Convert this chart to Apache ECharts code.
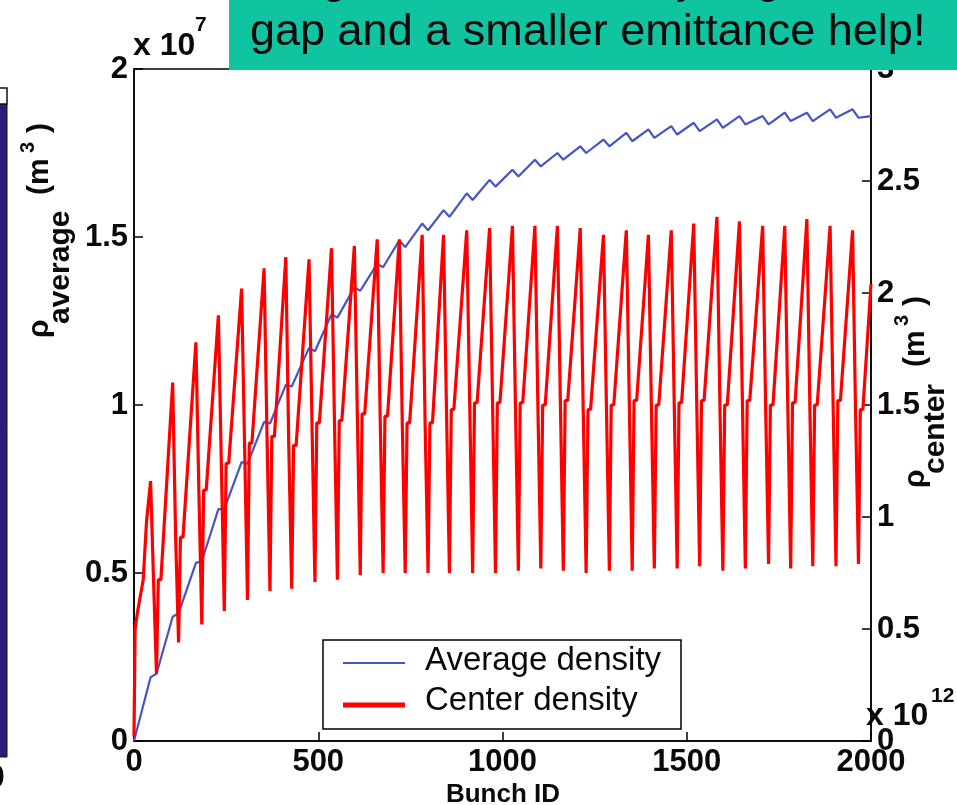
<!DOCTYPE html>
<html><head><meta charset="utf-8">
<script src="https://cdn.jsdelivr.net/npm/echarts@6/dist/echarts.min.js"></script>
<style>html,body{margin:0;padding:0;background:#fff;overflow:hidden}#c{width:957px;height:805px}</style>
</head><body><div id="c"></div>
<script>
// ---- data ----
// bunch index of each local maximum of the centre density (end of each train)
const peakBunch = [45,105,168,229,292,353,412,475,536,598,660,720,782,840,903,965,1027,1088,1149,1211,1274,1336,1396,1458,1519,1582,1643,1706,1766,1826,1889,1950];
// centre density (x1e12 m^-3) at each peak, mid-level shoulder and minimum
const centerPeak = [1.16,1.60,1.78,1.90,2.02,2.11,2.16,2.15,2.20,2.21,2.24,2.24,2.26,2.26,2.28,2.29,2.30,2.30,2.30,2.29,2.26,2.28,2.26,2.28,2.31,2.34,2.32,2.30,2.30,2.33,2.30,2.28];
const centerMid  = [0.72,0.91,1.12,1.24,1.33,1.36,1.32,1.42,1.43,1.46,1.45,1.42,1.42,1.48,1.51,1.51,1.51,1.50,1.52,1.48,1.50,1.52,1.50,1.51,1.52,1.50,1.52,1.50,1.51,1.50,1.52,1.48];
const centerMin  = [0.30,0.44,0.52,0.58,0.63,0.67,0.68,0.71,0.72,0.74,0.75,0.75,0.75,0.75,0.75,0.75,0.76,0.77,0.76,0.75,0.76,0.76,0.77,0.77,0.78,0.76,0.77,0.79,0.77,0.78,0.78,0.79];
const centerStartBunch = [0,3,10,25,34];
const centerStartValue = [0.02,0.50,0.58,0.72,0.98];
const centerEndValue = 2.04;
// bunch offsets (after a peak) of the shoulder-down, minimum, shoulder-up, shoulder-end points
const centerOffsets = [8,16,21,28];
// average density (x1e7 m^-3) at each peak bunch and at the dip that follows it
const avgTop = [0.19,0.37,0.53,0.69,0.83,0.95,1.06,1.17,1.27,1.35,1.42,1.49,1.54,1.58,1.63,1.67,1.70,1.73,1.75,1.77,1.79,1.81,1.82,1.83,1.84,1.85,1.86,1.86,1.87,1.87,1.88,1.88];
const avgLow = [0.20,0.38,0.535,0.69,0.825,0.945,1.055,1.16,1.26,1.34,1.41,1.47,1.52,1.56,1.61,1.65,1.68,1.71,1.73,1.75,1.77,1.785,1.795,1.805,1.815,1.825,1.835,1.835,1.845,1.845,1.855,1.855];
const avgDipOffset = 16;
const avgEndValue = 1.86;
const xMax = 2000;

// ---- build series ----
const red = [];
centerStartBunch.forEach((b,i)=>red.push([b, centerStartValue[i]]));
peakBunch.forEach((p,k)=>{
  red.push([p, centerPeak[k]]);
  red.push([p+centerOffsets[0], centerMid[k]]);
  red.push([p+centerOffsets[1], centerMin[k]]);
  red.push([p+centerOffsets[2], centerMid[k]]);
  red.push([p+centerOffsets[3], centerMid[k]]);
});
red.push([xMax, centerEndValue]);

const blue = [[0,0]];
peakBunch.forEach((p,k)=>{
  blue.push([p, avgTop[k]]);
  blue.push([p+avgDipOffset, avgLow[k]]);
});
blue.push([xMax, avgEndValue]);

const FONT = '"Liberation Sans", Arial, Helvetica, sans-serif';
const TXT = '#0a0a0a';
function t(x,y,text,size,opt){
  return Object.assign({type:'text', x:x, y:y, z:50,
    style:Object.assign({text:text, fill:TXT, font:(opt&&opt.weight||'normal')+' '+size+'px '+FONT,
      align:'left', verticalAlign:'middle'}, opt&&opt.style||{})}, opt&&opt.extra||{});
}
function rt(u,v,text,size,weight){
  return {type:'text', x:u, y:v,
    style:{text:text, fill:TXT, font:(weight||'bold')+' '+size+'px '+FONT, align:'left', verticalAlign:'middle'}};
}
const tickLabel = {fontSize:31, fontWeight:'bold', color:TXT, fontFamily:FONT, margin:6};

const chart = echarts.init(document.getElementById('c'), null, {renderer:'canvas'});
chart.setOption({
  animation:false,
  backgroundColor:'#fff',
  grid:{left:134, right:86, top:69, bottom:64, show:true, borderColor:'#000', borderWidth:1.5, backgroundColor:'transparent'},
  xAxis:{type:'value', min:0, max:xMax, interval:500,
    axisLine:{show:true, lineStyle:{color:'#000', width:1.5}},
    axisTick:{show:true, inside:true, length:9, lineStyle:{color:'#000', width:1.5}},
    axisLabel:Object.assign({formatter:(v)=>String(v)}, tickLabel),
    splitLine:{show:false}},
  yAxis:[
    {type:'value', position:'left', min:0, max:2, interval:0.5,
      axisLine:{show:true, lineStyle:{color:'#000', width:1.5}},
      axisTick:{show:true, inside:true, length:9, lineStyle:{color:'#000', width:1.5}},
      axisLabel:Object.assign({formatter:(v)=>String(v)}, tickLabel),
      splitLine:{show:false}},
    {type:'value', position:'right', min:0, max:3, interval:0.5,
      axisLine:{show:true, lineStyle:{color:'#000', width:1.5}},
      axisTick:{show:true, inside:true, length:9, lineStyle:{color:'#000', width:1.5}},
      axisLabel:Object.assign({formatter:(v)=>String(v)}, tickLabel),
      splitLine:{show:false}}
  ],
  series:[
    {name:'Average density', type:'line', yAxisIndex:0, data:blue, showSymbol:false, symbol:'none',
      lineStyle:{color:'#4555c4', width:2.2}, z:2},
    {name:'Center density', type:'line', yAxisIndex:1, data:red, showSymbol:false, symbol:'none',
      lineStyle:{color:'#ff0000', width:3.2}, z:3}
  ],
  graphic:[
    // left slide fragments
    {type:'rect', shape:{x:-2, y:104, width:9, height:653}, style:{fill:'#2e1c78', stroke:'#111', lineWidth:1}, z:40},
    {type:'rect', shape:{x:-2, y:88, width:9, height:16}, style:{fill:'#fff', stroke:'#111', lineWidth:1.5}, z:40},
    t(-13, 778, '0', 32, {weight:'bold'}),
    // exponent labels
    t(133, 46, 'x 10', 32, {weight:'bold'}),
    t(195, 25, '7', 21, {weight:'bold'}),
    t(866, 716, 'x 10', 32, {weight:'bold'}),
    t(931, 696, '12', 21, {weight:'bold'}),
    // x axis name
    t(503, 795, 'Bunch ID', 26, {weight:'bold', style:{align:'center'}}),
    // left y axis name (rotated)
    {type:'group', x:0, y:0, rotation:Math.PI/2, z:50, children:[
      rt(-338, 40, 'ρ', 30), rt(-324, 61, 'average', 30), rt(-195, 40, '(m', 30),
      rt(-153, 28, '3', 20), rt(-133, 40, ')', 30)
    ]},
    // right y axis name (rotated)
    {type:'group', x:0, y:0, rotation:Math.PI/2, z:50, children:[
      rt(-488, 916, 'ρ', 30), rt(-474, 936, 'center', 30), rt(-367, 916, '(m', 30),
      rt(-326, 902, '3', 20), rt(-306, 916, ')', 30)
    ]},
    // legend
    {type:'rect', shape:{x:323, y:640, width:358, height:89}, style:{fill:'#fff', stroke:'#000', lineWidth:1.5}, z:60},
    {type:'line', shape:{x1:343, y1:663, x2:405, y2:663}, style:{stroke:'#4555c4', lineWidth:2}, z:61},
    {type:'line', shape:{x1:343, y1:705, x2:405, y2:705}, style:{stroke:'#ff0000', lineWidth:5}, z:61},
    t(425, 661, 'Average density', 33, {extra:{z:61}}),
    t(425, 701, 'Center density', 33, {extra:{z:61}}),
    // banner
    {type:'rect', shape:{x:229, y:-2, width:730, height:72}, style:{fill:'#10c4a2'}, z:100},
    t(250, 33, 'gap and a smaller emittance help!', 45, {extra:{z:101}}),
    t(322, -19, 'g', 45, {extra:{z:101}}),
    t(676, -19, 'y', 45, {extra:{z:101}}),
    t(756, -19, 'g', 45, {extra:{z:101}})
  ]
});
</script></body></html>
